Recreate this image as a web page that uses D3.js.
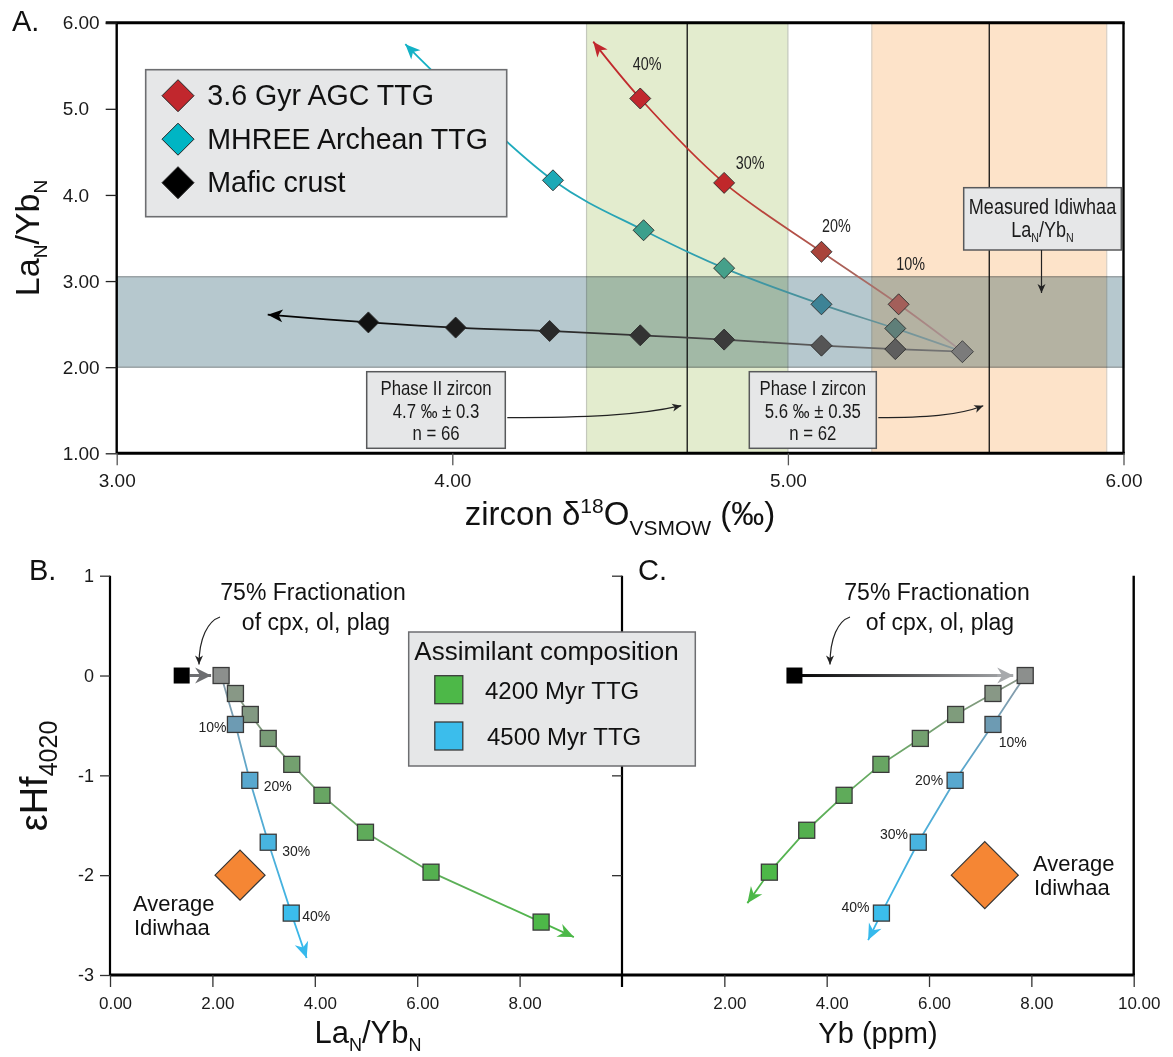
<!DOCTYPE html>
<html>
<head>
<meta charset="utf-8">
<script src="https://cdn.jsdelivr.net/npm/d3@7"></script>
<style>
  body { margin: 0; background: #fff; }
  svg { display: block; font-family: "Liberation Sans", Arial, sans-serif; }
</style>
</head>
<body>
<svg id="chart" width="1173" height="1057"></svg>
<script>
// ---------- Panel A: zircon δ18O vs LaN/YbN assimilation models ----------
const mixOrigin = [5.52, 2.18];                 // shared mafic starting composition
const agcO    = [5.33, 5.10, 4.81, 4.56];       // 3.6 Gyr AGC TTG (10–40 %)
const agcLaYb = [2.73, 3.34, 4.14, 5.12];
const agcTip  = [4.42, 5.78];
const agcPct  = ["10%", "20%", "30%", "40%"];
const mhreeO    = [5.32, 5.10, 4.81, 4.57, 4.30]; // MHREE Archean TTG
const mhreeLaYb = [2.45, 2.73, 3.15, 3.59, 4.17];
const mhreeTip  = [3.86, 5.75];
const maficO    = [5.32, 5.10, 4.81, 4.56, 4.29, 4.01, 3.75]; // Mafic crust
const maficLaYb = [2.21, 2.25, 2.32, 2.37, 2.42, 2.46, 2.52];
const maficTip  = [3.45, 2.61];
const measuredLaYb = [2.0, 3.05];               // measured Idiwhaa LaN/YbN range
const phaseNames = ["Phase II zircon", "Phase I zircon"];
const phaseMean  = [4.7, 5.6];
const phaseSd    = [0.3, 0.35];
const phaseN     = [66, 62];
const legendA    = ["3.6 Gyr AGC TTG", "MHREE Archean TTG", "Mafic crust"];
const xTicksA = [3, 4, 5, 6];
const xTickLabelsA = ["3.00", "4.00", "5.00", "6.00"];
const yTicksA = [1, 2, 3, 4, 5, 6];
const yTickLabelsA = ["1.00", "2.00", "3.00", "4.0", "5.0", "6.00"];

// ---------- Panels B and C: εHf vs LaN/YbN and Yb ----------
const fracLaYb = [1.40, 2.17];                  // 75 % fractionation: start → end
const fracYb   = [3.37, 7.88];
const fracHf   = [0, 0];
const ttg4200LaYb = [2.45, 2.74, 3.09, 3.55, 4.14, 4.99, 6.27, 8.42];
const ttg4200HfB  = [-0.18, -0.39, -0.63, -0.89, -1.20, -1.57, -1.97, -2.47];
const ttg4200TipB = [9.06, -2.62];
const ttg4500LaYb = [2.45, 2.73, 3.09, 3.54];
const ttg4500HfB  = [-0.49, -1.05, -1.67, -2.38];
const ttg4500TipB = [3.84, -2.83];
const ttg4200Yb   = [7.25, 6.52, 5.83, 5.06, 4.34, 3.61, 2.88];
const ttg4200HfC  = [-0.18, -0.39, -0.63, -0.89, -1.20, -1.55, -1.97];
const ttg4200TipC = [2.45, -2.28];
const ttg4500Yb   = [7.25, 6.51, 5.79, 5.07];
const ttg4500HfC  = [-0.49, -1.05, -1.67, -2.38];
const ttg4500TipC = [4.81, -2.65];
const ttgPct = ["10%", "20%", "30%", "40%"];
const avgIdiwhaaLaYb = 2.54, avgIdiwhaaYb = 7.09, avgIdiwhaaHf = -2.0;
const legendBTitle = "Assimilant composition";
const legendB = ["4200 Myr TTG", "4500 Myr TTG"];
const xTicksB = [0, 2, 4, 6, 8];
const xTicksC = [2, 4, 6, 8, 10];
const yTicksBC = [1, 0, -1, -2, -3];

// ---------- scales ----------
const xA = d3.scaleLinear().domain([3, 6]).range([116.7, 1123.5]);
const yA = d3.scaleLinear().domain([1, 6]).range([453.3, 22.7]);
const xB = d3.scaleLinear().domain([0, 10]).range([110, 622]);
const xC = d3.scaleLinear().domain([0, 10]).range([622, 1133.7]);
const yB = d3.scaleLinear().domain([-3, 1]).range([975, 575.7]);

const svg = d3.select("#chart");
const defs = svg.append("defs");

function arrowMarker(id, color, len, half, notch) {
  defs.append("marker").attr("id", id)
    .attr("markerUnits", "userSpaceOnUse")
    .attr("viewBox", `${-len - 1} ${-half - 1} ${len + 2} ${2 * half + 2}`)
    .attr("markerWidth", len + 2).attr("markerHeight", 2 * half + 2)
    .attr("refX", 0).attr("refY", 0).attr("orient", "auto")
    .append("path")
    .attr("d", `M0,0L${-len},${-half}L${-len + notch},0L${-len},${half}Z`)
    .attr("fill", color);
}
arrowMarker("arRed", "#c1272d", 15, 6.5, 4);
arrowMarker("arCyan", "#13b2c6", 15, 6.5, 4);
arrowMarker("arBlack", "#000", 15, 6.5, 4);
arrowMarker("arSmall", "#222", 9, 4, 2.5);
arrowMarker("arGreen", "#4cb848", 16, 7, 5);
arrowMarker("arBlue", "#36b9ec", 16, 7, 5);
arrowMarker("arGray", "#6d6e71", 16, 8, 5);
arrowMarker("arLight", "#a7a9ac", 16, 8, 5);

function gradient(id, p0, p1, stops) {
  const g = defs.append("linearGradient").attr("id", id)
    .attr("gradientUnits", "userSpaceOnUse")
    .attr("x1", p0[0]).attr("y1", p0[1]).attr("x2", p1[0]).attr("y2", p1[1]);
  stops.forEach(s => g.append("stop").attr("offset", s[0]).attr("stop-color", s[1]));
}

const diamond = h => `M0,${-h}L${h},0L0,${h}L${-h},0Z`;

// condensed text: horizontally squeezed Liberation Sans
function narrowText(g, x, y, size, anchor) {
  return g.append("text")
    .attr("transform", `translate(${x},${y}) scale(0.82,1)`)
    .attr("text-anchor", anchor).attr("font-size", size).attr("fill", "#1a1a1a");
}

// ======================= Panel A =======================
const gA = svg.append("g");
const bandFill = ["#e3ecce", "#fde3c9"];
const bandEdge = ["#c4c8bc", "#d8cfc4"];
phaseMean.forEach((m, i) => {
  gA.append("rect")
    .attr("x", xA(m - phaseSd[i])).attr("y", yA(6))
    .attr("width", xA(m + phaseSd[i]) - xA(m - phaseSd[i]))
    .attr("height", yA(1) - yA(6))
    .attr("fill", bandFill[i]).attr("stroke", bandEdge[i]).attr("stroke-width", 1.2);
});
gA.append("rect")
  .attr("x", xA(3)).attr("y", yA(measuredLaYb[1]))
  .attr("width", xA(6) - xA(3)).attr("height", yA(measuredLaYb[0]) - yA(measuredLaYb[1]))
  .attr("fill", "#b6c8ce").attr("stroke", "#9aa3a6").attr("stroke-width", 1.5)
  .style("mix-blend-mode", "multiply");
phaseMean.forEach(m => {
  gA.append("line").attr("x1", xA(m)).attr("x2", xA(m))
    .attr("y1", yA(6)).attr("y2", yA(1))
    .attr("stroke", "#111").attr("stroke-width", 1.3);
});

const lineA = d3.line().x(d => xA(d[0])).y(d => yA(d[1])).curve(d3.curveCatmullRom.alpha(0.5));
function seriesA(id, xs, ys, tip, stops, marker, fills) {
  const pts = [mixOrigin].concat(xs.map((x, i) => [x, ys[i]])).concat([tip]);
  gradient(id, [xA(mixOrigin[0]), yA(mixOrigin[1])], [xA(tip[0]), yA(tip[1])], stops);
  gA.append("path").attr("d", lineA(pts)).attr("fill", "none")
    .attr("stroke", `url(#${id})`).attr("stroke-width", 1.8)
    .attr("marker-end", `url(#${marker})`);
  return xs.map((x, i) => ({ x, y: ys[i], fill: fills[i] }));
}
const maficPts = seriesA("gMafic", maficO, maficLaYb, maficTip,
  [[0, "#777"], [0.5, "#333"], [1, "#000"]], "arBlack",
  ["#5e5e5e", "#555", "#3b3b3b", "#333", "#2a2a2a", "#1c1c1c", "#111"]);
const mhreePts = seriesA("gMhree", mhreeO, mhreeLaYb, mhreeTip,
  [[0, "#8d9a9b"], [0.22, "#4d8e98"], [0.45, "#2ea0b0"], [1, "#13b2c6"]], "arCyan",
  ["#5f7f79", "#3d8396", "#45a08a", "#3b9f8c", "#1ea9b6"]);
const agcPts = seriesA("gAgc", agcO, agcLaYb, agcTip,
  [[0, "#a89a9a"], [0.28, "#a9645c"], [0.6, "#c0372e"], [1, "#c1272d"]], "arRed",
  ["#a35f5a", "#a9443b", "#c0282a", "#c1272d"]);

[...maficPts, ...mhreePts, ...agcPts].forEach(p => {
  gA.append("path").attr("d", diamond(10.5))
    .attr("transform", `translate(${xA(p.x)},${yA(p.y)})`)
    .attr("fill", p.fill).attr("stroke", "#2b2b2b").attr("stroke-width", 0.9);
});
gA.append("path").attr("d", diamond(11))
  .attr("transform", `translate(${xA(mixOrigin[0])},${yA(mixOrigin[1])})`)
  .attr("fill", "#7b7b7b").attr("stroke", "#3a3a3a").attr("stroke-width", 0.9);

const agcPctOffset = [[12, -34], [15, -20], [26, -14], [7, -28]];
agcPts.forEach((p, i) => {
  narrowText(gA, xA(p.x) + agcPctOffset[i][0], yA(p.y) + agcPctOffset[i][1], 17.5, "middle")
    .attr("fill", "#222").text(agcPct[i]);
});

// legend A
gA.append("rect").attr("x", 145.7).attr("y", 69.7).attr("width", 361).attr("height", 147)
  .attr("fill", "#e6e7e8").attr("stroke", "#6d6e71").attr("stroke-width", 1.6);
const legendAFill = ["#c1272d", "#00b5c4", "#000"];
legendA.forEach((t, i) => {
  const cy = 95.7 + i * 43.5;
  gA.append("path").attr("d", diamond(16)).attr("transform", `translate(178,${cy})`)
    .attr("fill", legendAFill[i]).attr("stroke", "#222").attr("stroke-width", 1);
  gA.append("text").attr("x", 207.3).attr("y", cy + 9.7).attr("font-size", 28.6)
    .attr("fill", "#111").text(t);
});

// Phase annotation boxes
const phaseBox = [{ x: 366.7, y: 371.7, w: 138.6, h: 76.6 }, { x: 749.3, y: 371.7, w: 127, h: 76.6 }];
phaseNames.forEach((name, i) => {
  const b = phaseBox[i];
  gA.append("rect").attr("x", b.x).attr("y", b.y).attr("width", b.w).attr("height", b.h)
    .attr("fill", "#e6e7e8").attr("stroke", "#58595b").attr("stroke-width", 1.5);
  const lines = [name, `${phaseMean[i]} ‰ ± ${phaseSd[i]}`, `n = ${phaseN[i]}`];
  lines.forEach((l, j) => {
    narrowText(gA, b.x + b.w / 2, b.y + 23 + j * 22.8, 20.5, "middle").text(l);
  });
  const sx = b.x + b.w + 2, sy = b.y + 46;
  const ex = xA(phaseMean[i]) - 6, ey = b.y + 34;
  gA.append("path")
    .attr("d", `M${sx},${sy}C${sx + (ex - sx) * 0.45},${sy} ${ex - (ex - sx) * 0.25},${sy - 2} ${ex},${ey}`)
    .attr("fill", "none").attr("stroke", "#222").attr("stroke-width", 1.2)
    .attr("marker-end", "url(#arSmall)");
});

// Measured Idiwhaa box
gA.append("rect").attr("x", 963.7).attr("y", 187.7).attr("width", 157.6).attr("height", 62.3)
  .attr("fill", "#e6e7e8").attr("stroke", "#58595b").attr("stroke-width", 1.5);
narrowText(gA, 1042.5, 214, 22, "middle").text("Measured Idiwhaa");
const mLab = narrowText(gA, 1042.5, 237, 22, "middle");
mLab.append("tspan").text("La");
mLab.append("tspan").attr("font-size", 13).attr("dy", 5).text("N");
mLab.append("tspan").attr("dy", -5).text("/Yb");
mLab.append("tspan").attr("font-size", 13).attr("dy", 5).text("N");
gA.append("line").attr("x1", 1041.5).attr("x2", 1041.5).attr("y1", 250).attr("y2", 293)
  .attr("stroke", "#222").attr("stroke-width", 1.2).attr("marker-end", "url(#arSmall)");

// frame and axes
gA.append("line").attr("x1", xA(3) - 11).attr("x2", xA(6) + 1.2).attr("y1", yA(6)).attr("y2", yA(6))
  .attr("stroke", "#000").attr("stroke-width", 3);
gA.append("line").attr("x1", xA(3)).attr("x2", xA(6) + 1.2).attr("y1", yA(1)).attr("y2", yA(1))
  .attr("stroke", "#000").attr("stroke-width", 3);
gA.append("line").attr("x1", xA(3)).attr("x2", xA(3)).attr("y1", yA(6)).attr("y2", yA(1))
  .attr("stroke", "#000").attr("stroke-width", 2.4);
gA.append("line").attr("x1", xA(6)).attr("x2", xA(6)).attr("y1", yA(6)).attr("y2", yA(1))
  .attr("stroke", "#000").attr("stroke-width", 2.4);

const axAy = gA.append("g").attr("transform", `translate(${xA(3)},0)`)
  .call(d3.axisLeft(yA).tickValues(yTicksA).tickFormat((d, i) => yTickLabelsA[i]).tickSize(11));
axAy.select(".domain").remove();
axAy.selectAll("line").attr("stroke", "#222").attr("stroke-width", 1.3);
axAy.selectAll("text").attr("text-anchor", "start").attr("x", -54)
  .attr("font-size", 19).attr("font-family", null).attr("fill", "#1a1a1a");
const axAx = gA.append("g").attr("transform", `translate(0,${yA(1)})`)
  .call(d3.axisBottom(xA).tickValues(xTicksA).tickFormat((d, i) => xTickLabelsA[i]).tickSize(12).tickPadding(8));
axAx.select(".domain").remove();
axAx.selectAll("line").attr("stroke", "#555").attr("stroke-width", 1.3);
axAx.selectAll("text").attr("font-size", 19).attr("font-family", null).attr("fill", "#1a1a1a");

// titles A
svg.append("text").attr("x", 12).attr("y", 31).attr("font-size", 29).attr("fill", "#111").text("A.");
const tA = svg.append("text").attr("transform", "translate(39,238) rotate(-90)")
  .attr("text-anchor", "middle").attr("font-size", 34).attr("fill", "#111");
tA.append("tspan").text("La");
tA.append("tspan").attr("font-size", 19).attr("dy", 8).text("N");
tA.append("tspan").attr("dy", -8).text("/Yb");
tA.append("tspan").attr("font-size", 19).attr("dy", 8).text("N");
const xtA = svg.append("text").attr("x", 620).attr("y", 525)
  .attr("text-anchor", "middle").attr("font-size", 33).attr("fill", "#111");
xtA.append("tspan").text("zircon δ");
xtA.append("tspan").attr("font-size", 21).attr("dy", -12).text("18");
xtA.append("tspan").attr("dy", 12).text("O");
xtA.append("tspan").attr("font-size", 21).attr("dy", 10).text("VSMOW");
xtA.append("tspan").attr("dy", -10).text(" (‰)");

// ======================= Panels B and C =======================
const gBC = svg.append("g");
const sq = 16;
function square(g, x, y, fill, size) {
  g.append("rect").attr("x", x - size / 2).attr("y", y - size / 2)
    .attr("width", size).attr("height", size)
    .attr("fill", fill).attr("stroke", "#3a3a3a").attr("stroke-width", 1.3);
}
const lineBC = (xs, ys) => d3.line()(xs.map((x, i) => [x, ys[i]]));

function ttgSeries(id, xScale, xs, ys, tip, start, stops, marker) {
  const px = [xScale(start[0])].concat(xs.map(xScale)).concat([xScale(tip[0])]);
  const py = [yB(start[1])].concat(ys.map(yB)).concat([yB(tip[1])]);
  gradient(id, [px[0], py[0]], [px[px.length - 1], py[py.length - 1]], stops);
  gBC.append("path").attr("d", lineBC(px, py)).attr("fill", "none")
    .attr("stroke", `url(#${id})`).attr("stroke-width", 1.8)
    .attr("marker-end", `url(#${marker})`);
}
const greenStops = [[0, "#8a9488"], [0.45, "#6aa865"], [1, "#4cb848"]];
const blueStops = [[0, "#8a9aa5"], [0.35, "#5ca7cc"], [1, "#36b9ec"]];
const greenFill = ["#889886", "#829982", "#799c77", "#73a06f", "#68a563", "#5fab5a", "#54b04f", "#4db848"];
const blueFill = ["#6d9bb3", "#58a8cf", "#48b4e0", "#3bbdec"];

// Panel B lines
ttgSeries("gGreenB", xB, ttg4200LaYb, ttg4200HfB, ttg4200TipB, [fracLaYb[1], fracHf[1]], greenStops, "arGreen");
ttgSeries("gBlueB", xB, ttg4500LaYb, ttg4500HfB, ttg4500TipB, [fracLaYb[1], fracHf[1]], blueStops, "arBlue");
// Panel C lines
ttgSeries("gGreenC", xC, ttg4200Yb, ttg4200HfC, ttg4200TipC, [fracYb[1], fracHf[1]], greenStops, "arGreen");
ttgSeries("gBlueC", xC, ttg4500Yb, ttg4500HfC, ttg4500TipC, [fracYb[1], fracHf[1]], blueStops, "arBlue");

// fractionation arrows
gBC.append("line").attr("x1", xB(fracLaYb[0]) + 8).attr("x2", xB(fracLaYb[1]) - 10)
  .attr("y1", yB(fracHf[0])).attr("y2", yB(fracHf[1]))
  .attr("stroke", "#6d6e71").attr("stroke-width", 3).attr("marker-end", "url(#arGray)");
gradient("gFracC", [xC(fracYb[0]), 0], [xC(fracYb[1]) - 12, 0], [[0, "#000"], [1, "#a7a9ac"]]);
gBC.append("rect").attr("x", xC(fracYb[0])).attr("y", yB(0) - 1.5)
  .attr("width", xC(fracYb[1]) - 26 - xC(fracYb[0])).attr("height", 3).attr("fill", "url(#gFracC)");
gBC.append("line").attr("x1", xC(fracYb[1]) - 28).attr("x2", xC(fracYb[1]) - 12)
  .attr("y1", yB(0)).attr("y2", yB(0))
  .attr("stroke", "#a7a9ac").attr("stroke-width", 3).attr("marker-end", "url(#arLight)");

// squares
ttg4200LaYb.forEach((x, i) => square(gBC, xB(x), yB(ttg4200HfB[i]), greenFill[i], sq));
ttg4500LaYb.forEach((x, i) => square(gBC, xB(x), yB(ttg4500HfB[i]), blueFill[i], sq));
const greenFillC = ["#889886", "#7f9c7c", "#73a06f", "#68a563", "#5fab5a", "#54b04f", "#4db848"];
ttg4200Yb.forEach((x, i) => square(gBC, xC(x), yB(ttg4200HfC[i]), greenFillC[i], sq));
ttg4500Yb.forEach((x, i) => square(gBC, xC(x), yB(ttg4500HfC[i]), blueFill[i], sq));
[[xB, fracLaYb], [xC, fracYb]].forEach(([sx, f]) => {
  gBC.append("rect").attr("x", sx(f[0]) - 8).attr("y", yB(fracHf[0]) - 8)
    .attr("width", 16).attr("height", 16).attr("fill", "#000");
  square(gBC, sx(f[1]), yB(fracHf[1]), "#8c8f8d", sq);
});

// percent labels
const pctB = [["end", -9, 7.5], ["start", 14, 10.7], ["start", 14, 14], ["start", 11, 7.7]];
const pctC = [["start", 5.7, 22.3], ["end", -12, 5], ["end", -10.3, -3], ["end", -12, -1.6]];
ttgPct.forEach((t, i) => {
  gBC.append("text").attr("x", xB(ttg4500LaYb[i]) + pctB[i][1]).attr("y", yB(ttg4500HfB[i]) + pctB[i][2])
    .attr("text-anchor", pctB[i][0]).attr("font-size", 14).attr("fill", "#222").text(t);
  gBC.append("text").attr("x", xC(ttg4500Yb[i]) + pctC[i][1]).attr("y", yB(ttg4500HfC[i]) + pctC[i][2])
    .attr("text-anchor", pctC[i][0]).attr("font-size", 14).attr("fill", "#222").text(t);
});

// average Idiwhaa
gBC.append("path").attr("d", diamond(25))
  .attr("transform", `translate(${xB(avgIdiwhaaLaYb)},${yB(avgIdiwhaaHf)})`)
  .attr("fill", "#f58634").attr("stroke", "#333").attr("stroke-width", 1.2);
gBC.append("path").attr("d", diamond(33.5))
  .attr("transform", `translate(${xC(avgIdiwhaaYb)},${yB(avgIdiwhaaHf)})`)
  .attr("fill", "#f58634").attr("stroke", "#333").attr("stroke-width", 1.2);
[[133, 911], [1033, 871]].forEach(([x, y]) => {
  gBC.append("text").attr("x", x).attr("y", y).attr("font-size", 22).attr("fill", "#111").text("Average");
  gBC.append("text").attr("x", x + 1).attr("y", y + 23.5).attr("font-size", 22).attr("fill", "#111").text("Idiwhaa");
});

// fractionation notes
[[313, 216, 199], [937, 846, 830]].forEach(([cx, ax, tx]) => {
  gBC.append("text").attr("x", cx).attr("y", 600).attr("text-anchor", "middle")
    .attr("font-size", 23).attr("fill", "#111").text("75% Fractionation");
  gBC.append("text").attr("x", cx + 3).attr("y", 630).attr("text-anchor", "middle")
    .attr("font-size", 23).attr("fill", "#111").text("of cpx, ol, plag");
  gBC.append("path").attr("d", `M${ax + 4},617C${ax - 8},621 ${tx},638 ${tx},${yB(0) - 11}`)
    .attr("fill", "none").attr("stroke", "#222").attr("stroke-width", 1.2)
    .attr("marker-end", "url(#arSmall)");
});

// axes B/C
gBC.append("line").attr("x1", xB(0)).attr("x2", xC(10) + 1).attr("y1", yB(-3)).attr("y2", yB(-3))
  .attr("stroke", "#000").attr("stroke-width", 3);
gBC.append("line").attr("x1", xB(0)).attr("x2", xB(0)).attr("y1", yB(1)).attr("y2", yB(-3))
  .attr("stroke", "#000").attr("stroke-width", 2.2);
gBC.append("line").attr("x1", xC(0)).attr("x2", xC(0)).attr("y1", yB(1)).attr("y2", yB(-3) + 12)
  .attr("stroke", "#000").attr("stroke-width", 2.2);
gBC.append("line").attr("x1", xC(10)).attr("x2", xC(10)).attr("y1", yB(1)).attr("y2", yB(-3))
  .attr("stroke", "#000").attr("stroke-width", 2.4);

const axBy = gBC.append("g").attr("transform", `translate(${xB(0)},0)`)
  .call(d3.axisLeft(yB).tickValues(yTicksBC).tickFormat(d => String(d)).tickSize(10).tickPadding(6));
axBy.select(".domain").remove();
const axCy = gBC.append("g").attr("transform", `translate(${xC(0)},0)`)
  .call(d3.axisLeft(yB).tickValues(yTicksBC.slice(0, 4)).tickFormat("").tickSize(10));
axCy.select(".domain").remove();
const axBx = gBC.append("g").attr("transform", `translate(0,${yB(-3)})`)
  .call(d3.axisBottom(xB).tickValues(xTicksB).tickFormat(d3.format(".2f")).tickSize(12).tickPadding(10));
axBx.select(".domain").remove();
const axCx = gBC.append("g").attr("transform", `translate(0,${yB(-3)})`)
  .call(d3.axisBottom(xC).tickValues(xTicksC).tickFormat(d3.format(".2f")).tickSize(12).tickPadding(10));
axCx.select(".domain").remove();
[axBy, axCy, axBx, axCx].forEach(a => {
  a.selectAll("line").attr("stroke", "#333").attr("stroke-width", 1.3);
  a.selectAll("text").attr("font-family", null).attr("fill", "#1a1a1a");
});
axBy.selectAll("text").attr("font-size", 18);
[axBx, axCx].forEach(a => a.selectAll("text").attr("font-size", 17).attr("dx", 5));

// legend B
gBC.append("rect").attr("x", 408.7).attr("y", 632).attr("width", 286.6).attr("height", 134)
  .attr("fill", "#e6e7e8").attr("stroke", "#6d6e71").attr("stroke-width", 1.5);
gBC.append("text").attr("x", 414.3).attr("y", 659.5).attr("font-size", 26).attr("fill", "#111").text(legendBTitle);
const legendBFill = ["#4db848", "#3bbdec"];
legendB.forEach((t, i) => {
  const cy = 689.7 + i * 46.3;
  square(gBC, 448.8, cy, legendBFill[i], 28);
  gBC.append("text").attr("x", 485 + i * 2).attr("y", cy + 8.8).attr("font-size", 24)
    .attr("fill", "#111").text(t);
});

// titles B/C
svg.append("text").attr("x", 29).attr("y", 580).attr("font-size", 29).attr("fill", "#111").text("B.");
svg.append("text").attr("x", 638).attr("y", 580).attr("font-size", 29).attr("fill", "#111").text("C.");
const tB = svg.append("text").attr("transform", "translate(47,776) rotate(-90)")
  .attr("text-anchor", "middle").attr("font-size", 38).attr("fill", "#111");
tB.append("tspan").text("εHf");
tB.append("tspan").attr("font-size", 25).attr("dy", 10).text("4020");
const xtB = svg.append("text").attr("x", 368).attr("y", 1043)
  .attr("text-anchor", "middle").attr("font-size", 31).attr("fill", "#111");
xtB.append("tspan").text("La");
xtB.append("tspan").attr("font-size", 18).attr("dy", 8).text("N");
xtB.append("tspan").attr("dy", -8).text("/Yb");
xtB.append("tspan").attr("font-size", 18).attr("dy", 8).text("N");
svg.append("text").attr("x", 878).attr("y", 1043).attr("text-anchor", "middle")
  .attr("font-size", 29).attr("fill", "#111").text("Yb (ppm)");
</script>
</body>
</html>
